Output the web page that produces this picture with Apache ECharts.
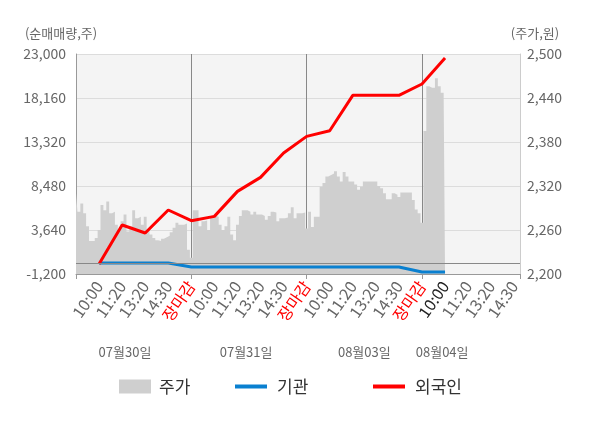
<!DOCTYPE html>
<html><head><meta charset="utf-8">
<script src="https://cdn.jsdelivr.net/npm/echarts@6/dist/echarts.min.js"></script>
<style>html,body{margin:0;padding:0;background:#fff}#c{width:600px;height:428px}</style>
</head><body><div id="c"></div>
<script>
// ---- data ----
const dates = ['07월30일', '07월31일', '08월03일', '08월04일'];
const dateLabelIdx = [17, 59, 100, 127];
const slotLabels = ['10:00', '11:20', '13:20', '14:30', '장마감'];
const currentSlotIdx = 128; // latest time (08/04 10:00)
const leftTicks = { min: -1200, max: 23000, interval: 4840 };
const rightTicks = { min: 2200, max: 2500, interval: 60 };

// 주가 (price) sampled along the time axis
const priceValues = [
  2310, 2285, 2296, 2283, 2265, 2245, 2245, 2249, 2260, 2294,
  2287, 2299, 2283, 2285, 2267, 2260, 2272, 2281, 2258, 2265,
  2287, 2276, 2278, 2267, 2278, 2260, 2254, 2249, 2246, 2245,
  2248, 2250, 2252, 2257, 2263, 2270, 2267, 2267, 2269, 2233,
  2222, 2287, 2287, 2265, 2272, 2273, 2260, 2277, 2279, 2278,
  2267, 2260, 2265, 2278, 2254, 2246, 2267, 2279, 2287, 2287,
  2285, 2281, 2285, 2281, 2281, 2279, 2274, 2279, 2285, 2284,
  2272, 2276, 2276, 2277, 2283, 2291, 2276, 2283, 2283, 2284,
  2262, 2285, 2264, 2278, 2278, 2319, 2324, 2333, 2335, 2337,
  2340, 2333, 2326, 2339, 2333, 2326, 2326, 2322, 2315, 2319,
  2326, 2326, 2326, 2326, 2326, 2320, 2317, 2310, 2302, 2302,
  2310, 2308, 2305, 2311, 2311, 2311, 2311, 2301, 2288, 2283,
  2270, 2395, 2456, 2454, 2454, 2467, 2456, 2447, 2454
];
// 기관 / 외국인 net buying at each published time slot
const instNet    = [0, 0, 0, 0, -420, -430, -430, -430, -430, -430, -430, -430, -430, -430, -980, -980];
const foreignNet = [-100, 4190, 3310, 5840, 4660, 5140, 7890, 9430, 12110, 13940, 14560, 18450, 18450, 18450, 19700, 22560];

// ---- axis construction ----
const PER_SLOT = 8, PER_DAY = 40, N = 155;
const cats = Array.from({ length: N }, (_, i) => String(i));
function slotSeries(vals) {
  const arr = new Array(N).fill(null);
  vals.forEach((v, k) => { arr[(k + 1) * PER_SLOT] = v; });
  return arr;
}
const FONT = "'Noto Sans CJK KR', 'Noto Sans', sans-serif";

const chart = echarts.init(document.getElementById('c'), null, { renderer: 'canvas' });
chart.setOption({
  animation: false,
  textStyle: { fontFamily: FONT },
  grid: { left: 76, right: 80, top: 54, bottom: 154, show: true, backgroundColor: '#f4f4f4', borderWidth: 0 },
  legend: [
    { data: ['주가'], left: 114, top: 373, icon: 'rect', itemWidth: 32, itemHeight: 14, textStyle: { fontSize: 17, color: '#333', padding: [0, 0, 0, 3] } },
    { data: ['기관'], left: 230, top: 373, icon: 'rect', itemWidth: 32, itemHeight: 4, textStyle: { fontSize: 17, color: '#333', padding: [0, 0, 0, 5] } },
    { data: ['외국인'], left: 368, top: 373, icon: 'rect', itemWidth: 32, itemHeight: 4, textStyle: { fontSize: 17, color: '#333', padding: [0, 0, 0, 5] } }
  ],
  xAxis: [
    {
      type: 'category', data: cats, boundaryGap: false, position: 'bottom',
      axisLine: { onZero: false, lineStyle: { color: '#999' } },
      axisTick: { show: true, length: 5, interval: (i) => i % PER_DAY === 0 || i === N - 1, lineStyle: { color: '#999' } },
      splitLine: { show: true, interval: (i) => i > 0 && i < N - 1 && i % PER_DAY === 0, lineStyle: { color: '#888', width: 1 } },
      axisLabel: {
        interval: (i) => i > 0 && i % PER_SLOT === 0,
        rotate: 55, margin: 9, fontSize: 16, color: '#666',
        formatter: (v, i) => {
          const s = i / PER_SLOT - 1;
          const t = slotLabels[s % slotLabels.length];
          if (t === '장마감') return '{r|' + t + '}';
          if (i === currentSlotIdx) return '{c|' + t + '}';
          return t;
        },
        rich: { r: { color: '#ff0000', fontSize: 16 }, c: { color: '#222', fontSize: 16 } }
      }
    },
    {
      type: 'category', data: cats, boundaryGap: false, position: 'bottom',
      axisLine: { show: false }, axisTick: { show: false }, splitLine: { show: false },
      axisLabel: {
        interval: (i) => dateLabelIdx.includes(i),
        formatter: (v, i) => dates[dateLabelIdx.indexOf(i)] || '',
        margin: 72, fontSize: 13, color: '#666'
      }
    }
  ],
  yAxis: [
    {
      type: 'value', position: 'left', min: leftTicks.min, max: leftTicks.max, interval: leftTicks.interval,
      name: '(순매매량,주)', nameLocation: 'end', nameGap: 14,
      nameTextStyle: { color: '#666', fontSize: 13, align: 'center', padding: [0, 30, 0, 0] },
      axisLine: { show: true, lineStyle: { color: '#999' } }, axisTick: { show: false },
      axisLabel: { color: '#666', fontSize: 14, margin: 10 },
      splitLine: { show: true, lineStyle: { color: '#dcdcdc' } }
    },
    {
      type: 'value', position: 'right', min: rightTicks.min, max: rightTicks.max, interval: rightTicks.interval,
      name: '(주가,원)', nameLocation: 'end', nameGap: 14,
      nameTextStyle: { color: '#666', fontSize: 13, align: 'center', padding: [0, 0, 0, 30] },
      axisLine: { show: true, lineStyle: { color: '#ccc' } }, axisTick: { show: false },
      axisLabel: { color: '#666', fontSize: 14, margin: 7 },
      splitLine: { show: false }
    }
  ],
  series: [
    {
      name: '주가', type: 'line', xAxisIndex: 0, yAxisIndex: 1, data: priceValues,
      step: 'middle', showSymbol: false, color: '#cfcfcf',
      lineStyle: { width: 0 }, areaStyle: { color: '#cfcfcf', opacity: 1, origin: 'start' }, z: 1
    },
    {
      name: '기관', type: 'line', xAxisIndex: 0, yAxisIndex: 0, data: slotSeries(instNet),
      connectNulls: true, showSymbol: false, color: '#0a80d0', lineStyle: { width: 3, color: '#0a80d0' }, z: 3,
      markLine: { silent: true, symbol: 'none', label: { show: false }, lineStyle: { color: '#888', width: 1, type: 'solid' }, data: [{ yAxis: 0 }] }
    },
    {
      name: '외국인', type: 'line', xAxisIndex: 0, yAxisIndex: 0, data: slotSeries(foreignNet),
      connectNulls: true, showSymbol: false, color: '#ff0000', lineStyle: { width: 3, color: '#ff0000' }, z: 4
    }
  ]
});
</script></body></html>
